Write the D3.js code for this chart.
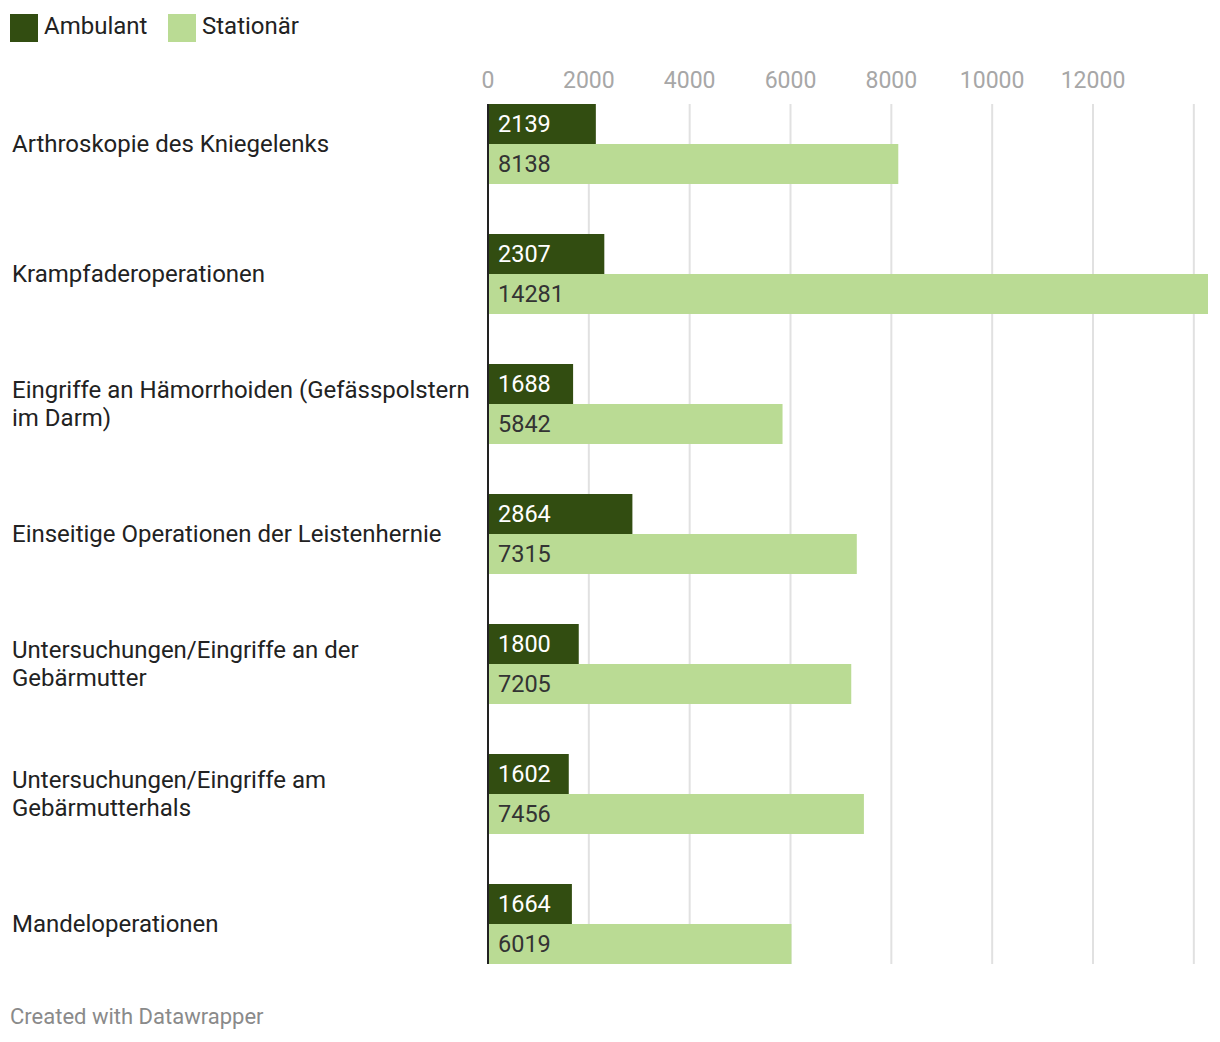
<!DOCTYPE html>
<html><head><meta charset="utf-8">
<script src="https://cdn.jsdelivr.net/npm/d3@7"></script>
<style>
body{margin:0;background:#fff;font-family:Roboto,"Noto Sans",sans-serif;}
</style></head>
<body><svg id="c" width="1220" height="1042"></svg>
<script>
const categories = [
  ["Arthroskopie des Kniegelenks"],
  ["Krampfaderoperationen"],
  ["Eingriffe an Hämorrhoiden (Gefässpolstern", "im Darm)"],
  ["Einseitige Operationen der Leistenhernie"],
  ["Untersuchungen/Eingriffe an der", "Gebärmutter"],
  ["Untersuchungen/Eingriffe am", "Gebärmutterhals"],
  ["Mandeloperationen"]
];
const ambulant = [2139, 2307, 1688, 2864, 1800, 1602, 1664];
const stationaer = [8138, 14281, 5842, 7315, 7205, 7456, 6019];
const seriesNames = ["Ambulant", "Stationär"];
const seriesColors = ["#324d11", "#badb94"];
const labelColors = ["#ffffff", "#333333"];
const tickValues = [0, 2000, 4000, 6000, 8000, 10000, 12000];
const gridValues = [0, 2000, 4000, 6000, 8000, 10000, 12000, 14000];

const svg = d3.select("#c");
const x = d3.scaleLinear().domain([0, 14281]).range([488, 1208]);
const y = d3.scaleBand().domain(d3.range(categories.length)).range([104, 964]).paddingInner(50/130).paddingOuter(0).align(0);
const sub = d3.scaleBand().domain([0,1]).range([0, y.bandwidth()]);

// legend
const leg = svg.append("g");
const legX = [10, 168];
seriesNames.forEach((n,i)=>{
  leg.append("rect").attr("x",legX[i]).attr("y",14).attr("width",28).attr("height",28).attr("fill",seriesColors[i]);
  leg.append("text").attr("x",legX[i]+34).attr("y",26).attr("dy","0.35em").attr("font-size",24).attr("fill","#222").text(n);
});

const yTop = y(0), yBottom = y(categories.length-1) + y.bandwidth();
// grid
svg.append("g").selectAll("line").data(gridValues.slice(1)).join("line")
  .attr("x1",d=>x(d)).attr("x2",d=>x(d)).attr("y1",yTop).attr("y2",yBottom)
  .attr("stroke","#e1e1e1").attr("stroke-width",2);
// tick labels
svg.append("g").selectAll("text").data(tickValues).join("text")
  .attr("x",d=>x(d)).attr("y",80).attr("dy","0.35em").attr("text-anchor","middle")
  .attr("font-size",23).attr("fill","#a7a7a7").text(d=>d);

const data = categories.map((c,i)=>({c, vals:[ambulant[i], stationaer[i]], i}));
const g = svg.append("g").selectAll("g").data(data).join("g").attr("transform",d=>`translate(0,${y(d.i)})`);
g.each(function(d){
  const gg = d3.select(this);
  d.vals.forEach((v,k)=>{
    gg.append("rect").attr("x",x(0)).attr("y",sub(k)).attr("width",x(v)-x(0)).attr("height",sub.bandwidth()).attr("fill",seriesColors[k]);
    gg.append("text").attr("x",x(0)+10).attr("y",sub(k)+sub.bandwidth()/2).attr("dy","0.35em")
      .attr("font-size",23.5).attr("fill",labelColors[k]).text(v);
  });
  const n = d.c.length;
  d.c.forEach((line,li)=>{
    gg.append("text").attr("x",12).attr("y",y.bandwidth()/2 + (li-(n-1)/2)*28).attr("dy","0.35em")
      .attr("font-size",24).attr("fill","#222").text(line);
  });
});
// axis baseline
svg.append("line").attr("x1",x(0)).attr("x2",x(0)).attr("y1",yTop).attr("y2",yBottom).attr("stroke","#222").attr("stroke-width",2);

svg.append("text").attr("x",10).attr("y",1016).attr("dy","0.35em").attr("font-size",22).attr("fill","#8a8a8a").text("Created with Datawrapper");
</script></body></html>
